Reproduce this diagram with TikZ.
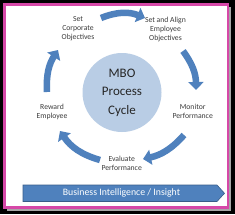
\documentclass[tikz,border=0pt]{standalone}
\usepackage{fontspec}
\setmainfont{Carlito}
\usetikzlibrary{arrows.meta}
\definecolor{pinkframe}{RGB}{214,72,168}
\definecolor{arrowblue}{RGB}{79,129,189}
\definecolor{darkblue}{RGB}{56,93,138}
\definecolor{circblue}{RGB}{185,205,229}
\definecolor{labgray}{RGB}{60,60,60}
\tikzset{
  cyclearrow/.style={arrowblue, line width=6.5pt, -{Triangle[length=8pt,width=15pt]}},
  steplabel/.style={align=center, text=labgray, font=\fontsize{7.7}{9}\selectfont, inner sep=0pt},
  hub/.style={circle, fill=circblue, minimum size=79pt, inner sep=0pt, align=center,
    text=black!85, font=\fontsize{13}{18.5}\selectfont},
  banner/.style={fill=arrowblue, draw=darkblue, line width=0.6pt},
  bannertext/.style={text=white, font=\fontsize{9.8}{11}\selectfont, inner sep=0pt}
}
\begin{document}
\begin{tikzpicture}[x=1pt,y=-1pt]
\useasboundingbox (0,0) rectangle (235,214);
% frame
\fill[black] (0,0) rectangle (235,214);
\fill[gray!70] (7,7) rectangle (231,211);
\fill[pinkframe] (3,3) rectangle (229,209);
\fill[white] (6,6) rectangle (227,206);
% hub
\node[hub] (hub) at (122,92.5) {MBO\\Process\\Cycle};
% labels
\node[steplabel] (corp) at (78,29) {Set\\Corporate\\Objectives};
\node[steplabel] (align) at (165.5,29) {Set and Align\\Employee\\Objectives};
\node[steplabel] (monitor) at (192.7,111.5) {Monitor\\Performance};
\node[steplabel] (evaluate) at (121.7,163.2) {Evaluate\\Performance};
\node[steplabel] (reward) at (52,111.5) {Reward\\Employee};
% arrow endpoints
\coordinate (t1) at (101,18);  \coordinate (h1) at (145,18);
\coordinate (t2) at (183,51);  \coordinate (h2) at (196,90);
\coordinate (t3) at (184,135); \coordinate (h3) at (143,159);
\coordinate (t4) at (100,160); \coordinate (h4) at (60,131);
\coordinate (t5) at (47,92);   \coordinate (h5) at (58,50);
\draw[cyclearrow] (t1) to[bend left=22] (h1);
\draw[cyclearrow] (t2) to[bend left=18] (h2);
\draw[cyclearrow] (t3) to[bend left=18] (h3);
\draw[cyclearrow] (t4) to[bend left=20] (h4);
\draw[cyclearrow] (t5) to[bend left=18] (h5);
% banner
\draw[banner] (23,185) -- (217,185) -- (224.5,193.3) -- (217,201.5) -- (23,201.5) -- cycle;
\node[bannertext] (bi) at (121.5,193.3) {Business Intelligence / Insight};
\end{tikzpicture}
\end{document}
